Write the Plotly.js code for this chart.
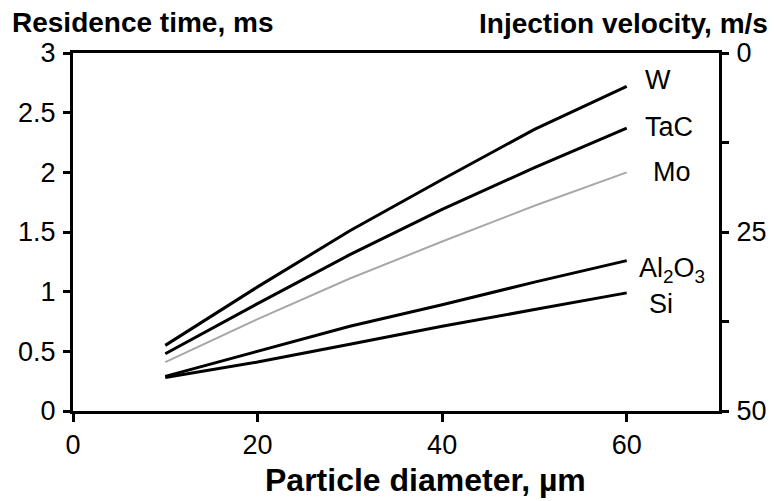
<!DOCTYPE html>
<html>
<head>
<meta charset="utf-8">
<script src="https://cdn.plot.ly/plotly-3.0.1.min.js"></script>
<style>html,body{margin:0;padding:0;background:#fff;}#chart{width:776px;height:501px;}</style>
</head>
<body>
<div id="chart"></div>
<script>
// Particle diameter, µm
const diameter = [10, 20, 30, 40, 50, 60];
// Residence time, ms
const W     = [0.55, 1.04, 1.51, 1.94, 2.36, 2.72];
const TaC   = [0.48, 0.90, 1.31, 1.69, 2.04, 2.37];
const Mo    = [0.41, 0.77, 1.11, 1.42, 1.72, 2.00];
const Al2O3 = [0.29, 0.50, 0.71, 0.89, 1.08, 1.26];
const Si    = [0.28, 0.41, 0.56, 0.71, 0.85, 0.99];
const seriesNames = ['W', 'TaC', 'Mo', 'Al<sub>2</sub>O<sub>3</sub>', 'Si'];
const labelX = [61.75, 61.75, 62.6, 61.1, 62.2];
const labelY = [2.77, 2.38, 2.0, 1.185, 0.9];
const xTicks = [0, 20, 40, 60];
const rightTicks = [0, 12.5, 25, 37.5, 50];
const rightTickText = ['0', '', '25', '', '50'];

const FONT = 'Liberation Sans, Arial, sans-serif';
const series = [W, TaC, Mo, Al2O3, Si];
const colors = ['#000', '#000', '#a8a8a8', '#000', '#000'];
const widths = [3, 3, 2, 3, 3];

const traces = series.map((s, i) => ({
  x: diameter, y: s, type: 'scatter', mode: 'lines',
  line: {color: colors[i], width: widths[i]}, name: seriesNames[i],
  hoverinfo: 'x+y'
}));
// empty trace that binds the right-hand (injection velocity) axis so it is drawn
traces.push({x: [], y: [], type: 'scatter', mode: 'lines', yaxis: 'y2', showlegend: false, hoverinfo: 'skip'});

const annotations = seriesNames.map((n, i) => ({
  x: labelX[i], y: labelY[i], xref: 'x', yref: 'y', text: n, showarrow: false,
  xanchor: 'left', yanchor: 'middle', font: {family: FONT, size: 27, color: '#000'}
}));
const L = 73, R = 57, T = 53, B = 90, Wd = 776, Ht = 501;
const pw = Wd - L - R, ph = Ht - T - B;
annotations.push({x: (10 - L) / pw, y: 1 + (T - 5) / ph, xref: 'paper', yref: 'paper', xanchor: 'left', yanchor: 'top',
  text: '<b>Residence time, ms</b>', showarrow: false, font: {family: FONT, size: 28, color: '#000'}});
annotations.push({x: (770 - L) / pw, y: 1 + (T - 6) / ph, xref: 'paper', yref: 'paper', xanchor: 'right', yanchor: 'top',
  text: '<b>Injection velocity, m/s</b>', showarrow: false, font: {family: FONT, size: 28, color: '#000'}});
// x-axis title, centred where the reference draws it
annotations.push({x: (425 - L) / pw, y: -(480 - (Ht - B)) / ph, xref: 'paper', yref: 'paper', xanchor: 'center', yanchor: 'middle',
  text: '<b>Particle diameter, µm</b>', showarrow: false, font: {family: FONT, size: 32, color: '#000'}});

const layout = {
  width: Wd, height: Ht,
  margin: {l: L, r: R, t: T, b: B, pad: 0},
  paper_bgcolor: '#fff', plot_bgcolor: '#fff',
  showlegend: false,
  font: {family: FONT, color: '#000', size: 27},
  xaxis: {
    range: [0, 70], tickvals: xTicks, ticks: 'outside', ticklen: 8, tickwidth: 3, tickcolor: '#000',
    showline: true, linewidth: 3, linecolor: '#000', mirror: true, showgrid: false, zeroline: false,
    tickfont: {family: FONT, size: 27}, ticklabelstandoff: 0
  },
  yaxis: {
    range: [0, 3], dtick: 0.5, ticks: 'outside', ticklen: 7, tickwidth: 3, tickcolor: '#000',
    showline: true, linewidth: 3, linecolor: '#000', showgrid: false, zeroline: false,
    tickfont: {family: FONT, size: 27}, ticklabelstandoff: 2
  },
  yaxis2: {
    overlaying: 'y', side: 'right', range: [50, 0], tickvals: rightTicks, ticktext: rightTickText,
    ticks: 'outside', ticklen: 7, tickwidth: 3, tickcolor: '#000',
    showline: true, linewidth: 3, linecolor: '#000', showgrid: false, zeroline: false,
    tickfont: {family: FONT, size: 27}, ticklabelstandoff: 2
  },
  annotations: annotations
};

Plotly.newPlot('chart', traces, layout, {displayModeBar: false, staticPlot: true});
</script>
</body>
</html>
